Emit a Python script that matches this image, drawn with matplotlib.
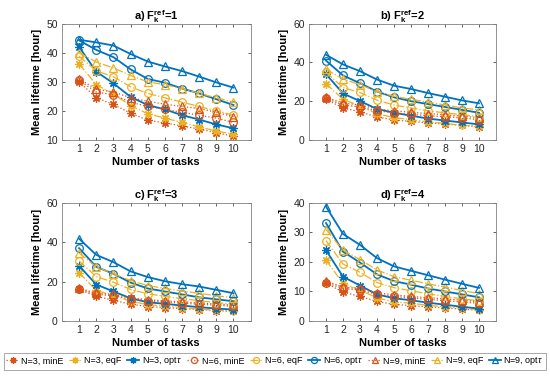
import matplotlib
matplotlib.use("Agg")
import matplotlib.pyplot as plt
import numpy as np

plt.rcParams['font.family'] = ['Liberation Sans', 'DejaVu Sans']
plt.rcParams['mathtext.fontset'] = 'custom'
plt.rcParams['mathtext.rm'] = 'Liberation Sans'
plt.rcParams['mathtext.bf'] = 'Liberation Sans:bold'
plt.rcParams['mathtext.it'] = 'Liberation Sans:italic'

tasks = [1, 2, 3, 4, 5, 6, 7, 8, 9, 10]
series_labels = ["N=3, minE", "N=3, eqF", r"N=3, opt$\tau$",
                 "N=6, minE", "N=6, eqF", r"N=6, opt$\tau$",
                 "N=9, minE", "N=9, eqF", r"N=9, opt$\tau$"]

# panel a) F=1
a_n3_minE = [30, 24.5, 22.2, 19.2, 16.8, 15.8, 14.8, 13.7, 12.5, 11.2]
a_n3_eqF = [36.2, 29, 25.8, 21.8, 19, 17.5, 16, 14.5, 13, 12]
a_n3_opt = [42, 33.5, 29.5, 24.8, 22, 20.5, 18.5, 17, 15.3, 14]
a_n6_minE = [30.5, 26.5, 25.5, 23, 21.5, 20.5, 19.5, 18.5, 17.5, 16]
a_n6_eqF = [38.8, 33.8, 31.7, 28.3, 26, 24.5, 23, 21.5, 20, 18.5]
a_n6_opt = [44.3, 41, 38.5, 34.3, 31, 29.7, 27.7, 26, 24, 22]
a_n9_minE = [31, 27.5, 26.5, 24.5, 23.3, 22.3, 21.5, 20.8, 19.5, 18]
a_n9_eqF = [40, 36.8, 34.8, 32.2, 30, 29, 27.7, 26, 24.5, 23]
a_n9_opt = [44.5, 43.6, 42.5, 39.6, 37, 35.3, 33.7, 31.8, 29.8, 28]

# panel b) F=2
b_n3_minE = [21, 16.5, 14.5, 11.8, 10.3, 9.5, 8.8, 8.2, 7.5, 6.8]
b_n3_eqF = [29, 21, 17.5, 13.5, 11.5, 10.5, 9.3, 8.5, 7.5, 7]
b_n3_opt = [34, 24, 20, 16, 14, 12.5, 11, 10, 9, 8]
b_n6_minE = [21.5, 18, 17, 15, 14, 13.2, 12.5, 12, 11.3, 10.5]
b_n6_eqF = [35, 27, 24.5, 20.5, 18, 16.5, 15, 14, 13, 12]
b_n6_opt = [41, 33.3, 29.3, 25, 22, 20, 18.5, 17, 15.5, 14]
b_n9_minE = [22, 19, 18, 16, 15, 14.3, 13.6, 13, 12.2, 11.5]
b_n9_eqF = [36.5, 31.5, 28.5, 25, 22.5, 21, 19.5, 18, 16.5, 15.5]
b_n9_opt = [44, 39, 35.5, 31.2, 28, 26.3, 24.2, 22.3, 20.4, 18.9]

# panel c) F=3
c_n3_minE = [16, 12.5, 10.5, 8.5, 7.3, 6.8, 6.3, 5.8, 5.3, 4.8]
c_n3_eqF = [24.5, 15.5, 13, 10, 8.3, 7.5, 6.8, 6, 5.5, 5]
c_n3_opt = [28, 18.5, 15, 11.5, 9.5, 8.7, 7.8, 7, 6.3, 5.8]
c_n6_minE = [16.3, 13.5, 12.8, 11.2, 10.3, 9.5, 9, 8.5, 8, 7.4]
c_n6_eqF = [30.5, 22.5, 19.7, 16, 13.8, 12.5, 11.3, 10.3, 9.3, 8.5]
c_n6_opt = [37, 27.5, 24, 19.5, 16.5, 15, 13.5, 12, 11, 10]
c_n9_minE = [16.8, 14, 13.5, 11.8, 10.8, 10.2, 9.7, 9.2, 8.6, 8]
c_n9_eqF = [34.5, 27.5, 24, 20.5, 18, 16.5, 15.3, 14, 12.8, 11.8]
c_n9_opt = [41.8, 33.6, 29.9, 25.2, 22.3, 20.2, 18.7, 17.5, 15.8, 14.1]

# panel d) F=4
d_n3_minE = [12.8, 9.8, 8.3, 6.6, 5.6, 5.2, 4.8, 4.4, 4, 3.6]
d_n3_eqF = [20.6, 12.8, 10.5, 7.8, 6.5, 6, 5.3, 4.8, 4.3, 3.8]
d_n3_opt = [24, 15, 12, 9, 7.7, 7, 6.2, 5.5, 4.8, 4.2]
d_n6_minE = [13, 11, 10.5, 9, 8.3, 7.8, 7.3, 6.9, 6.4, 6]
d_n6_eqF = [27.2, 19.3, 16.5, 13, 11.3, 10.2, 9.2, 8.3, 7.5, 6.8]
d_n6_opt = [33.2, 23.5, 19.8, 15.8, 13.5, 12.3, 11, 10, 9, 8]
d_n9_minE = [13.5, 11.5, 11, 9.6, 8.8, 8.3, 7.9, 7.5, 7, 6.5]
d_n9_eqF = [31, 24, 20.8, 17.3, 15, 13.8, 12.6, 11.5, 10.3, 9.3]
d_n9_opt = [38.8, 29.5, 25.8, 21.3, 18.5, 17, 15.5, 14, 12.6, 11.2]

panel_titles = [r"a) $\mathbf{F_k^{ref}}$=1", r"b) $\mathbf{F_k^{ref}}$=2",
                r"c) $\mathbf{F_k^{ref}}$=3", r"d) $\mathbf{F_k^{ref}}$=4"]
panel_ylims = [(10, 50), (0, 60), (0, 60), (0, 40)]
panel_yticks = [[10, 20, 30, 40, 50], [0, 20, 40, 60], [0, 20, 40, 60], [0, 10, 20, 30, 40]]

panels = [
    [a_n3_minE, a_n3_eqF, a_n3_opt, a_n6_minE, a_n6_eqF, a_n6_opt, a_n9_minE, a_n9_eqF, a_n9_opt],
    [b_n3_minE, b_n3_eqF, b_n3_opt, b_n6_minE, b_n6_eqF, b_n6_opt, b_n9_minE, b_n9_eqF, b_n9_opt],
    [c_n3_minE, c_n3_eqF, c_n3_opt, c_n6_minE, c_n6_eqF, c_n6_opt, c_n9_minE, c_n9_eqF, c_n9_opt],
    [d_n3_minE, d_n3_eqF, d_n3_opt, d_n6_minE, d_n6_eqF, d_n6_opt, d_n9_minE, d_n9_eqF, d_n9_opt],
]

RED = '#D95319'
YEL = '#EDB120'
BLUE = '#0072BD'
colors = [RED, YEL, BLUE] * 3
lstyles = [':', '-.', '-'] * 3
lwidths = [0.9, 0.9, 1.3] * 3
markers = [(8, 2, 0)] * 3 + ['o'] * 3 + ['^'] * 3
msizes = [6] * 3 + [5.5] * 3 + [5.5] * 3

fig = plt.figure(figsize=(5.5, 3.78), dpi=100)
positions = [(0.1127, 0.630, 0.343, 0.307), (0.5618, 0.630, 0.340, 0.307),
             (0.1127, 0.151, 0.343, 0.312), (0.5618, 0.151, 0.340, 0.312)]
AX_C = '#262626'
handles = []
for p, pos in enumerate(positions):
    ax = fig.add_axes(pos)
    for i, ys in enumerate(panels[p]):
        ln, = ax.plot(tasks, ys, linestyle=lstyles[i], color=colors[i], lw=lwidths[i],
                      marker=markers[i], markersize=msizes[i], markerfacecolor='none',
                      markeredgecolor=colors[i], markeredgewidth=0.9, label=series_labels[i])
        if p == 0:
            handles.append(ln)
    ax.set_xlim(0, 11)
    ax.set_ylim(*panel_ylims[p])
    ax.set_xticks(tasks)
    ax.set_yticks(panel_yticks[p])
    ax.tick_params(direction='in', length=2.5, width=0.5, labelsize=7.5, colors=AX_C,
                   top=True, right=True, pad=3)
    for s in ax.spines.values():
        s.set_color('#808080')
        s.set_linewidth(0.6)
    ax.set_xlabel("Number of tasks", fontsize=8, fontweight='bold', labelpad=2, color='black')
    ax.set_ylabel("Mean lifetime [hour]", fontsize=8, fontweight='bold', labelpad=3, color='black')
    ax.set_title(panel_titles[p], fontsize=8, fontweight='bold', pad=3)

leg = fig.legend(handles=handles, labels=series_labels, loc='center', ncol=9,
                 bbox_to_anchor=(0.5, 0.0437), fontsize=6.5, frameon=True, fancybox=False,
                 handlelength=1.4, handletextpad=0.25, columnspacing=0.6, borderpad=0.25,
                 borderaxespad=0.2, markerscale=0.8)
leg.get_frame().set_edgecolor('#808080')
leg.get_frame().set_linewidth(0.6)

fig.savefig("out.png", dpi=100)
